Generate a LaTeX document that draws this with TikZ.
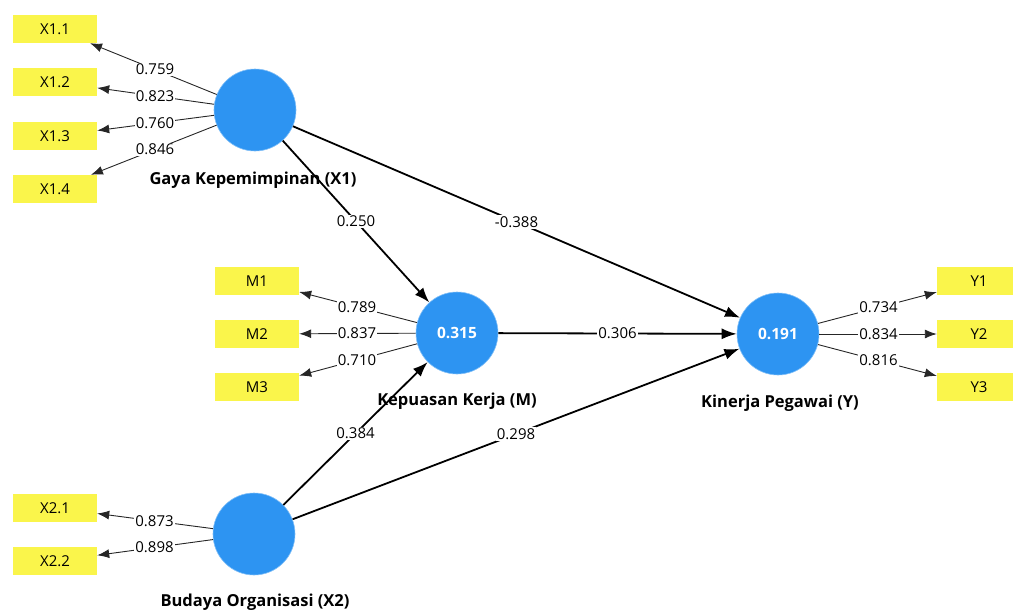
\documentclass[tikz,border=0pt]{standalone}
\usepackage{fontspec}
\setmainfont{Open Sans}
\usetikzlibrary{arrows.meta,calc}
\definecolor{lvblue}{RGB}{45,148,242}
\definecolor{mvyellow}{RGB}{250,245,75}
\begin{document}
\begin{tikzpicture}[x=1pt,y=-1pt,
 latent/.style={circle,fill=lvblue,draw=lvblue!60,line width=0.6pt,minimum size=82pt,inner sep=0pt,text=white,font=\fontsize{15.5}{17}\selectfont\bfseries},
 indicator/.style={rectangle,fill=mvyellow,minimum width=84pt,minimum height=28pt,inner sep=0pt,font=\fontsize{15}{17}\selectfont},
 lvname/.style={font=\fontsize{16.5}{18}\selectfont\bfseries},
 coef/.style={fill=white,inner sep=1pt,font=\fontsize{15}{17}\selectfont},
 outerarrow/.style={draw=black!85,line width=0.9pt,-{Latex[length=12pt,width=9pt]}},
 innerarrow/.style={draw=black,line width=1.8pt,-{Latex[length=15pt,width=11pt]}},
]
\useasboundingbox (0,0) rectangle (1013,614);
% latent variables
\node[latent] (X1) at (255,110) {};
\node[latent] (M) at (457,333) {0.315};
\node[latent] (Y) at (778,334) {0.191};
\node[latent] (X2) at (254,534) {};
% latent names
\node[lvname] (nX1) at (253,180) {Gaya Kepemimpinan (X1)};
\node[lvname] (nM) at (457,401) {Kepuasan Kerja (M)};
\node[lvname] (nY) at (780,403) {Kinerja Pegawai (Y)};
\node[lvname] (nX2) at (255,602) {Budaya Organisasi (X2)};
% indicators
\node[indicator] (x11) at (55,29) {X1.1};
\node[indicator] (x12) at (55,82) {X1.2};
\node[indicator] (x13) at (55,136) {X1.3};
\node[indicator] (x14) at (55,189) {X1.4};
\node[indicator] (m1) at (257,281) {M1};
\node[indicator] (m2) at (257,334) {M2};
\node[indicator] (m3) at (257,387) {M3};
\node[indicator] (y1) at (979,281) {Y1};
\node[indicator] (y2) at (979,334) {Y2};
\node[indicator] (y3) at (979,387) {Y3};
\node[indicator] (x21) at (55,508) {X2.1};
\node[indicator] (x22) at (55,561) {X2.2};
% outer loadings
\draw[outerarrow] (X1) -- (x11);
\draw[outerarrow] (X1) -- (x12);
\draw[outerarrow] (X1) -- (x13);
\draw[outerarrow] (X1) -- (x14);
\draw[outerarrow] (M) -- (m1);
\draw[outerarrow] (M) -- (m2);
\draw[outerarrow] (M) -- (m3);
\draw[outerarrow] (Y) -- (y1);
\draw[outerarrow] (Y) -- (y2);
\draw[outerarrow] (Y) -- (y3);
\draw[outerarrow] (X2) -- (x21);
\draw[outerarrow] (X2) -- (x22);
% inner paths
\draw[innerarrow] (X1) -- (M);
\draw[innerarrow] (X1) -- (Y);
\draw[innerarrow] (M) -- (Y);
\draw[innerarrow] (X2) -- (M);
\draw[innerarrow] (X2) -- (Y);
% coefficients
\node[coef] (c11) at ($(X1)!0.5!(x11)$) {0.759};
\node[coef] (c12) at ($(X1)!0.5!(x12)$) {0.823};
\node[coef] (c13) at ($(X1)!0.5!(x13)$) {0.760};
\node[coef] (c14) at ($(X1)!0.5!(x14)$) {0.846};
\node[coef] (cm1) at ($(M)!0.5!(m1)$) {0.789};
\node[coef] (cm2) at ($(M)!0.5!(m2)$) {0.837};
\node[coef] (cm3) at ($(M)!0.5!(m3)$) {0.710};
\node[coef] (cy1) at ($(Y)!0.5!(y1)$) {0.734};
\node[coef] (cy2) at ($(Y)!0.5!(y2)$) {0.834};
\node[coef] (cy3) at ($(Y)!0.5!(y3)$) {0.816};
\node[coef] (c21) at ($(X2)!0.5!(x21)$) {0.873};
\node[coef] (c22) at ($(X2)!0.5!(x22)$) {0.898};
\node[coef] (pX1M) at ($(X1)!0.5!(M)$) {0.250};
\node[coef] (pX1Y) at ($(X1)!0.5!(Y)$) {-0.388};
\node[coef] (pMY) at ($(M)!0.5!(Y)$) {0.306};
\node[coef] (pX2M) at ($(X2)!0.5!(M)$) {0.384};
\node[coef] (pX2Y) at ($(X2)!0.5!(Y)$) {0.298};
\end{tikzpicture}
\end{document}
